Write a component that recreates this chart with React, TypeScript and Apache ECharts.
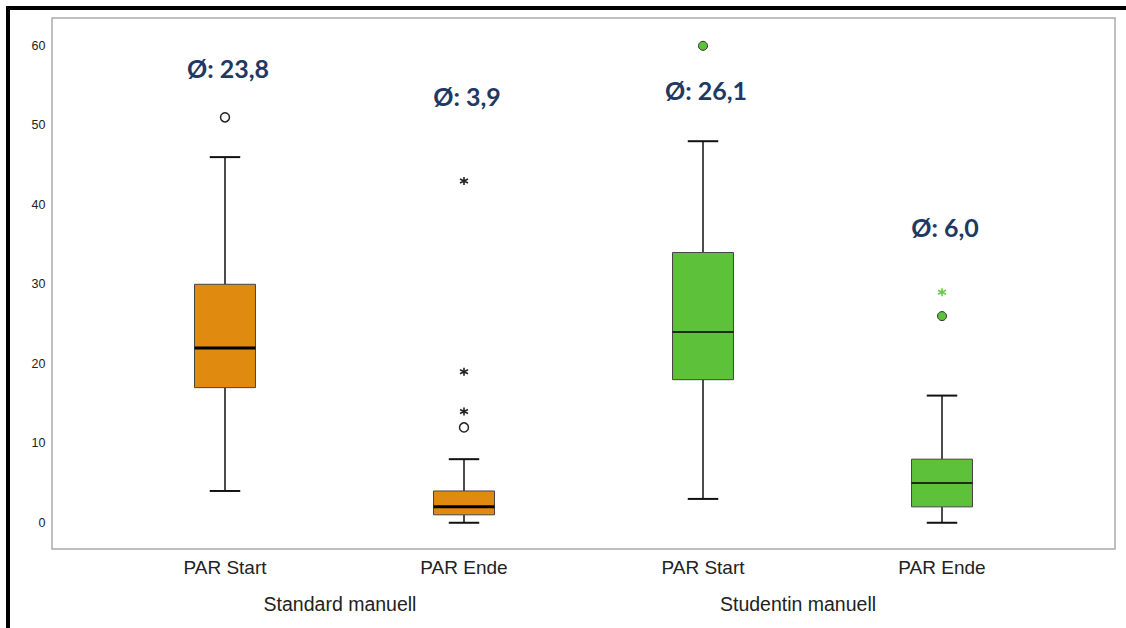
import React, { useEffect, useRef } from "react";
import * as echarts from "echarts";

const categories = ["PAR Start", "PAR Ende", "PAR Start", "PAR Ende"];
const groups = ["Standard manuell", "Studentin manuell"];
const lows = [4, 0, 3, 0];
const q1s = [17, 1, 18, 2];
const medians = [22, 2, 24, 5];
const q3s = [30, 4, 34, 8];
const highs = [46, 8, 48, 16];
const outlierCircles: [number, number][] = [[0, 51], [1, 12], [2, 60], [3, 26]];
const extremes: [number, number][] = [[1, 14], [1, 19], [1, 43], [3, 29]];
const means = [23.8, 3.9, 26.1, 6.0];
const meanLabelY = [57.2, 53.7, 54.5, 37.2];
const yTicks = [0, 10, 20, 30, 40, 50, 60];

const ORANGE = "#E08A10";
const GREEN = "#5DC13A";
const boxColor = (i: number) => (i < 2 ? ORANGE : GREEN);

export default function App() {
  const ref = useRef<HTMLDivElement>(null);
  useEffect(() => {
    const chart = echarts.init(ref.current!, null, { renderer: "svg" });
    const boxData = categories.map((_, i) => [i, lows[i], q1s[i], medians[i], q3s[i], highs[i]]);
    const starPath = "path://M5,0L5,10M0.7,2.5L9.3,7.5M0.7,7.5L9.3,2.5";
    chart.setOption({
      animation: false,
      grid: { left: 105.5, right: 64.5, top: 18, bottom: 79, containLabel: false },
      xAxis: {
        type: "category",
        data: categories,
        axisLine: { show: false },
        axisTick: { show: false },
        axisLabel: { fontFamily: "Liberation Sans", fontSize: 19, color: "#222", margin: 9 },
      },
      yAxis: {
        type: "value",
        min: -3.3,
        max: 63.5,
        axisLine: { show: false },
        axisTick: { show: false },
        splitLine: { show: false },
        axisLabel: {
          customValues: yTicks,
          fontFamily: "Liberation Sans",
          fontSize: 12.5,
          color: "#222",
          margin: 60,
        },
      },
      graphic: [
        { type: "rect", shape: { x: 52, y: 18, width: 1063, height: 531 }, style: { fill: "none", stroke: "#aaaaaa", lineWidth: 1.5 }, silent: true },
        { type: "rect", shape: { x: 6, y: 6, width: 1120, height: 4 }, style: { fill: "#000" }, silent: true },
        { type: "rect", shape: { x: 6, y: 6, width: 4, height: 622 }, style: { fill: "#000" }, silent: true },
        { type: "text", x: 340, y: 604, style: { text: groups[0], fontFamily: "Liberation Sans", fontSize: 19.5, fill: "#222", textAlign: "center", textVerticalAlign: "middle" } },
        { type: "text", x: 798, y: 604, style: { text: groups[1], fontFamily: "Liberation Sans", fontSize: 19.5, fill: "#222", textAlign: "center", textVerticalAlign: "middle" } },
      ],
      series: [
        {
          type: "custom",
          data: boxData,
          encode: { x: 0, y: [1, 2, 3, 4, 5] },
          renderItem: (params: any, api: any) => {
            const i = api.value(0);
            const x = api.coord([i, 0])[0];
            const y = (v: number) => api.coord([i, v])[1];
            const bw = api.size([1, 0])[0] * 0.255;
            const cw = bw / 2;
            const yl = y(api.value(1)), y1 = y(api.value(2)), ym = y(api.value(3)), y3 = y(api.value(4)), yh = y(api.value(5));
            const ls = { stroke: "#111", lineWidth: 1.5 };
            return {
              type: "group",
              children: [
                { type: "line", shape: { x1: x, y1: y1, x2: x, y2: yl }, style: ls },
                { type: "line", shape: { x1: x, y1: y3, x2: x, y2: yh }, style: ls },
                { type: "line", shape: { x1: x - cw / 2, y1: yl, x2: x + cw / 2, y2: yl }, style: { stroke: "#111", lineWidth: 2 } },
                { type: "line", shape: { x1: x - cw / 2, y1: yh, x2: x + cw / 2, y2: yh }, style: { stroke: "#111", lineWidth: 2 } },
                { type: "rect", shape: { x: x - bw / 2, y: y3, width: bw, height: y1 - y3 }, style: { fill: boxColor(i), stroke: "#444", lineWidth: 1 } },
                { type: "line", shape: { x1: x - bw / 2, y1: ym, x2: x + bw / 2, y2: ym }, style: { stroke: "#000", lineWidth: i < 2 ? 3 : 1.5 } },
              ],
            };
          },
          z: 2,
        },
        {
          type: "scatter",
          data: outlierCircles.map(([c, v]) => ({
            value: [c, v],
            itemStyle: c < 2 ? { color: "#fff", borderColor: "#222", borderWidth: 1.5, opacity: 1 } : { color: GREEN, borderColor: "#333", borderWidth: 1, opacity: 1 },
          })),
          symbol: "circle",
          symbolSize: 9,
          z: 3,
        },
        {
          type: "scatter",
          data: extremes.map(([c, v]) => ({
            value: [c, v],
            itemStyle: { color: "none", borderColor: c < 2 ? "#222" : "#6CC84A", borderWidth: 1.6, opacity: 1 },
          })),
          symbol: starPath,
          symbolSize: 8,
          z: 3,
        },
        {
          type: "scatter",
          data: meanLabelY.map((v, i) => [i, v]),
          symbolSize: 1,
          itemStyle: { color: "rgba(0,0,0,0)", opacity: 1 },
          label: {
            show: true,
            position: "inside",
            offset: [3, 0],
            formatter: (p: any) => "Ø: " + means[p.dataIndex].toFixed(1).replace(".", ","),
            fontFamily: "Lato",
            fontWeight: "bold",
            fontSize: 25,
            color: "#1F3864",
          },
          z: 4,
        },
      ],
    });
    return () => chart.dispose();
  }, []);
  return <div ref={ref} style={{ position: "fixed", left: 0, top: 0, width: 1126, height: 628, background: "#fff" }} />;
}
